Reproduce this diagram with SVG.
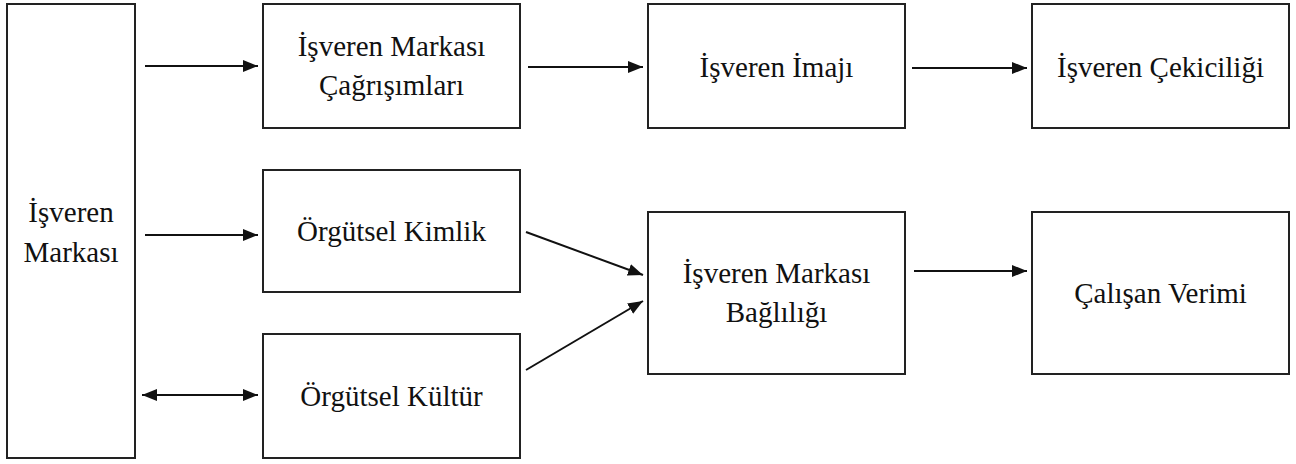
<svg xmlns="http://www.w3.org/2000/svg" width="1296" height="464" viewBox="0 0 1296 464">
<style>
.box{fill:#fff;stroke:#222;stroke-width:2}
.t{font-family:'Liberation Serif','Times New Roman',Times,'DejaVu Serif',serif;font-size:29px;fill:#111;text-anchor:middle}
.c{stroke:#111;stroke-width:2;fill:none}
</style>
<defs>
<marker id="ah" markerUnits="userSpaceOnUse" markerWidth="16" markerHeight="14" refX="15" refY="7" orient="auto-start-reverse">
<path d="M0,1 L15,7 L0,13 Z" fill="#111"/>
</marker>
</defs>
<rect width="1296" height="464" fill="#fff"/>
<g id="isveren-markasi"><rect class="box" x="7" y="4" width="128" height="454"/><text class="t" font-family="Liberation Serif, serif" x="71" y="222">İşveren</text><text class="t" x="71" y="262">Markası</text></g>
<g id="cagrisimlar"><rect class="box" x="263" y="4" width="257" height="124"/><text class="t" x="391.5" y="56">İşveren Markası</text><text class="t" x="391.5" y="95">Çağrışımları</text></g>
<g id="imaj"><rect class="box" x="648" y="4" width="257" height="124"/><text class="t" x="776.5" y="77">İşveren İmajı</text></g>
<g id="cekicilik"><rect class="box" x="1032" y="4" width="257" height="124"/><text class="t" x="1160.5" y="77">İşveren Çekiciliği</text></g>
<g id="kimlik"><rect class="box" x="263" y="170" width="257" height="122"/><text class="t" x="391.5" y="241">Örgütsel Kimlik</text></g>
<g id="kultur"><rect class="box" x="263" y="334" width="257" height="124"/><text class="t" x="391.5" y="406">Örgütsel Kültür</text></g>
<g id="baglilik"><rect class="box" x="648" y="212" width="257" height="162"/><text class="t" x="776.5" y="283">İşveren Markası</text><text class="t" x="776.5" y="322">Bağlılığı</text></g>
<g id="verim"><rect class="box" x="1032" y="212" width="257" height="162"/><text class="t" x="1160.5" y="303">Çalışan Verimi</text></g>
<g id="connectors">
<line class="c" x1="145" y1="66" x2="258" y2="66" marker-end="url(#ah)"/>
<line class="c" x1="528" y1="67" x2="643" y2="67" marker-end="url(#ah)"/>
<line class="c" x1="912" y1="68" x2="1027" y2="68" marker-end="url(#ah)"/>
<line class="c" x1="145" y1="235" x2="258" y2="235" marker-end="url(#ah)"/>
<line class="c" x1="142" y1="395" x2="258" y2="395" marker-start="url(#ah)" marker-end="url(#ah)"/>
<line class="c" x1="526" y1="232" x2="643" y2="275" marker-end="url(#ah)"/>
<line class="c" x1="526" y1="370" x2="643" y2="301" marker-end="url(#ah)"/>
<line class="c" x1="914" y1="271" x2="1027" y2="271" marker-end="url(#ah)"/>
</g>
</svg>
